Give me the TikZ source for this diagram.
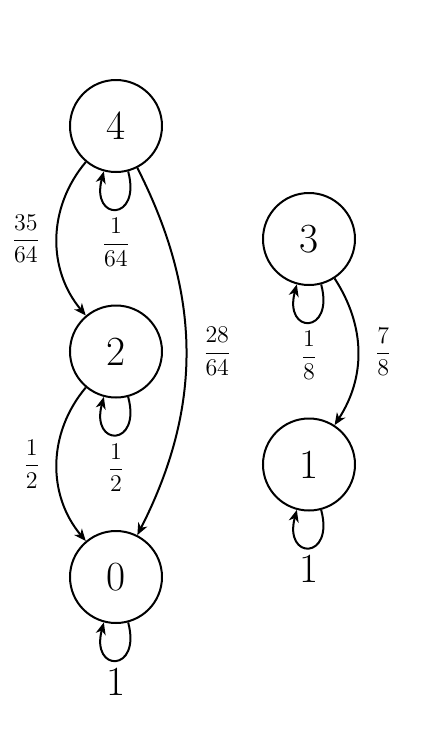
\documentclass[tikz,border=0pt]{standalone}
\usetikzlibrary{arrows.meta}
\newcommand{\prob}[2]{{\fontsize{12}{15}\selectfont$\displaystyle\frac{#1}{#2}$}}
\begin{document}
\begin{tikzpicture}[
    node distance=112.75pt,
    state/.style={draw, circle, minimum size=46pt, inner sep=0pt, line width=1pt, font=\huge},
    arrow/.style={-{Stealth[length=6pt, width=5pt, inset=1.8pt]}, line width=1pt},
    every loop/.style={looseness=5.5, min distance=0pt},
    lbl/.style={inner sep=8pt},
    lpl/.style={inner sep=4pt}
]
    \useasboundingbox (-58pt,63pt) rectangle (162.5pt,-310pt);

    \node[state] (s4) {4};
    \node[state, below of=s4] (s2) {2};
    \node[state, below of=s2] (s0) {0};
    \node[state, right of=s4, xshift=-16.25pt, yshift=-56.5pt] (s3) {3};
    \node[state, below of=s3] (s1) {1};

    \draw[arrow] (s4) to[bend right=40] node[lbl, left] {\prob{35}{64}} (s2);
    \draw[arrow] (s4) to[bend left=27] node[lbl, right] {\prob{28}{64}} (s0);
    \draw[arrow] (s2) to[bend right=40] node[lbl, left] {\prob{1}{2}} (s0);
    \draw[arrow] (s3) to[bend left=33] node[lbl, right] {\prob{7}{8}} (s1);

    \draw[arrow] (s4) to[loop below] node[lpl, below] {\prob{1}{64}} (s4);
    \draw[arrow] (s2) to[loop below] node[lpl, below] {\prob{1}{2}} (s2);
    \draw[arrow] (s0) to[loop below] node[below, font=\huge] {1} (s0);
    \draw[arrow] (s3) to[loop below] node[lpl, below] {\prob{1}{8}} (s3);
    \draw[arrow] (s1) to[loop below] node[below, font=\huge] {1} (s1);
\end{tikzpicture}
\end{document}
